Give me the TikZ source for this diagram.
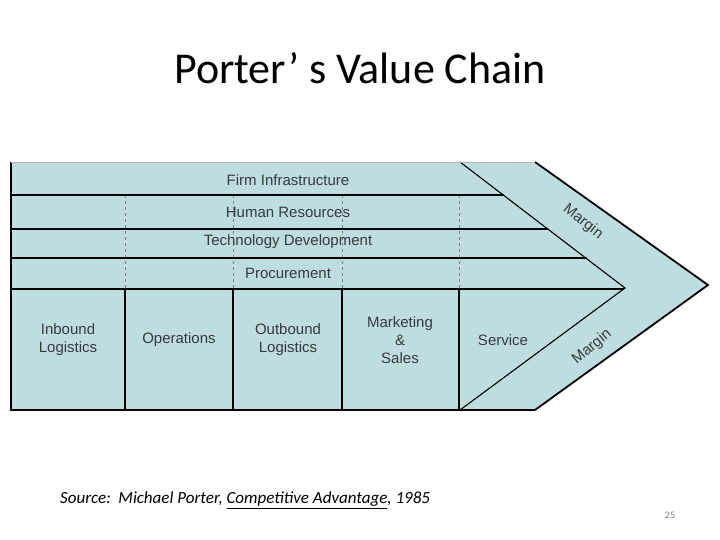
\documentclass[tikz,border=0pt]{standalone}
\usepackage{fontspec}
\setmainfont{Carlito}
\newfontfamily\arial{Liberation Sans}
\usepackage{xcolor}
\definecolor{vcfill}{HTML}{BDDDE1}
\definecolor{vctext}{HTML}{3A3A3A}
\begin{document}
\begin{tikzpicture}[x=1pt,y=-1pt,
  lbl/.style={font=\arial\fontsize{15}{18}\selectfont, text=vctext, align=center, inner sep=0pt},
  thk/.style={line width=1.8pt, black},
  thn/.style={line width=1.1pt, black},
  dsh/.style={dashed, gray, line width=0.5pt}]
\useasboundingbox (0,0) rectangle (720,540);
\node (title) at (360,68) {\fontsize{44}{48}\selectfont Porter’ s Value Chain};
% outer shape
\fill[vcfill] (11,162) -- (535,162) -- (708,285) -- (535,410) -- (11,410) -- cycle;
% dashed supports
\foreach \x in {125,233,342,459} \draw[dsh] (\x,195) -- (\x,289);
% row lines
\draw[thk] (11,195) -- (504,195);
\draw[thk] (11,229) -- (548,229);
\draw[thk] (11,258) -- (587,258);
\draw[thk] (11,289) -- (624,289);
% column lines
\foreach \x in {125,233,342,459} \draw[thk] (\x,289) -- (\x,410);
% inner chevron
\draw[thn] (460,162) -- (625,288) -- (460,410);
% outer
\draw[thk, line join=miter] (535,162) -- (708,285) -- (535,410);
\draw[thk] (11,162) -- (11,410) -- (535,410);
\draw[line width=0.8pt, gray!60] (11,162) -- (535,162);
% labels
\node[lbl] (fi) at (288,180) {Firm Infrastructure};
\node[lbl] (hr) at (288,212) {Human Resources};
\node[lbl] (td) at (288,242) {Technology Development};
\node[lbl] (pr) at (288,273) {Procurement};
\node[lbl] (il) at (68,340) {Inbound\\Logistics};
\node[lbl] (op) at (179,340) {Operations};
\node[lbl] (ol) at (288,340) {Outbound\\Logistics};
\node[lbl] (ms) at (400,340) {Marketing\\\&\\Sales};
\node[lbl] (sv) at (503,340) {Service};
\node[lbl, rotate=-38] (m1) at (583,222) {Margin};
\node[lbl, rotate=40] (m2) at (592,347) {Margin};
% source
\node[anchor=west, inner sep=0pt] (src) at (60,500) {\fontsize{17}{20}\selectfont\itshape Source:\ \ Michael Porter, \underline{Competitive Advantage}, 1985};
\node[text=gray, inner sep=0pt] (pg) at (670,515) {\fontsize{10}{12}\selectfont 25};
\end{tikzpicture}
\end{document}
